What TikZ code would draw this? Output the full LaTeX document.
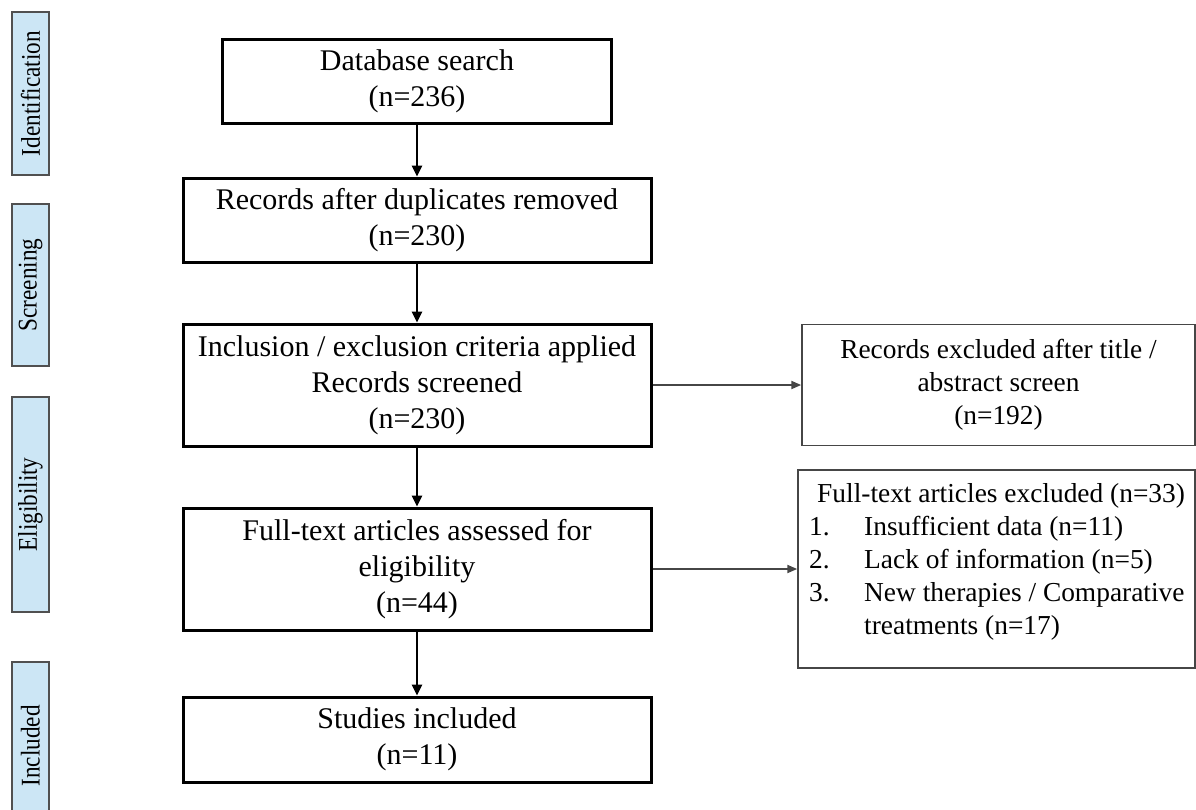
\documentclass[tikz,border=0pt]{standalone}
\usepackage{fontspec}
\usepackage{graphicx}
\setmainfont{Liberation Serif}
\usetikzlibrary{arrows.meta}
\definecolor{sideblue}{RGB}{204,230,245}
\definecolor{sideedge}{RGB}{80,80,80}
\definecolor{thinedge}{RGB}{70,70,70}
\newcommand{\sidetext}[1]{\scalebox{0.86}[1.0]{#1}}
\begin{document}
\begin{tikzpicture}[x=1pt,y=-1pt,
  mainbox/.style={draw=black,line width=3pt,inner sep=0pt,align=center,font=\fontsize{30}{36}\selectfont},
  sidebox/.style={draw=sideedge,fill=sideblue,line width=1.5pt,rotate=90,inner sep=0pt,minimum height=37pt,font=\fontsize{27}{30}\selectfont},
  excbox/.style={draw=thinedge,line width=1.5pt,inner sep=0pt,align=center,font=\fontsize{27.4}{33}\selectfont},
  vflow/.style={-{Triangle[length=11pt,width=10pt]},line width=2.5pt,black},
  hflow/.style={-{Triangle[length=10pt,width=8pt]},line width=2pt,thinedge}]
\useasboundingbox (0,0) rectangle (1196,809);
\clip (0,0) rectangle (1196,809);
% side stage labels
\node[sidebox,minimum width=163pt] (sid) at (30.5,93.5) {\sidetext{Identification}};
\node[sidebox,minimum width=162pt] (sscr) at (30.5,285) {\sidetext{Screening}};
\node[sidebox,minimum width=215pt] (selig) at (30.5,504.5) {\sidetext{Eligibility}};
\node[sidebox,minimum width=168pt] (sinc) at (30.5,746) {\sidetext{Included}};
% main flow
\node[mainbox,minimum width=389pt,minimum height=84pt] (db) at (417,81) {Database search\\(n=236)};
\node[mainbox,minimum width=468pt,minimum height=84pt] (rec) at (417,220) {Records after duplicates removed\\(n=230)};
\node[mainbox,minimum width=468pt,minimum height=122pt] (incl) at (417,385) {Inclusion / exclusion criteria applied\\Records screened\\(n=230)};
\node[mainbox,minimum width=468pt,minimum height=122pt] (ft) at (417,569) {Full-text articles assessed for\\eligibility\\(n=44)};
\node[mainbox,minimum width=468pt,minimum height=85pt] (stud) at (417,739.5) {Studies included\\(n=11)};
% exclusion boxes
\node[excbox,minimum width=393pt,minimum height=121pt] (ex1) at (998.5,385) {Records excluded after title /\\abstract screen\\(n=192)};
\node[excbox,minimum width=397pt,minimum height=198pt] (ex2) at (996.5,569) {};
\node[anchor=base west,inner sep=0pt,font=\fontsize{27.4}{33}\selectfont] (ex2t) at (809,502)
  {\begin{tabular}[t]{@{}p{55pt}@{}l@{}}
   \multicolumn{2}{@{\hspace{8pt}}l@{}}{Full-text articles excluded (n=33)}\\
   1. & Insufficient data (n=11)\\
   2. & Lack of information (n=5)\\
   3. & New therapies / Comparative\\
      & treatments (n=17)
   \end{tabular}};
% connectors
\draw[vflow] (db) -- (rec);
\draw[vflow] (rec) -- (incl);
\draw[vflow] (incl) -- (ft);
\draw[vflow] (ft) -- (stud);
\draw[hflow] (incl.east) -- (ex1.west);
\draw[hflow] (ft.east) -- (ex2.west);
\end{tikzpicture}
\end{document}
